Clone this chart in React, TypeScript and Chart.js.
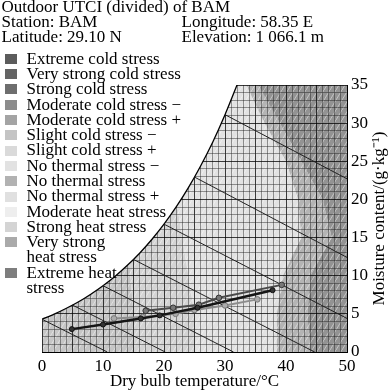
import React, { useEffect, useRef } from 'react';
import { Chart, registerables } from 'chart.js';

Chart.register(...registerables);

const FONT = "'Liberation Serif', 'Times New Roman', serif";

// ---- texts ----
const TITLE_LEFT = ['Outdoor UTCI (divided) of BAM', 'Station: BAM', 'Latitude: 29.10 N'];
const TITLE_RIGHT = ['', 'Longitude: 58.35 E', 'Elevation: 1 066.1 m'];
const X_TITLE = 'Dry bulb temperature/°C';
const Y_TITLE = 'Moisture content/(g·kg⁻¹)';

const LEGEND_LABELS = [
  ['Extreme cold stress'],
  ['Very strong cold stress'],
  ['Strong cold stress'],
  ['Moderate cold stress −'],
  ['Moderate cold stress +'],
  ['Slight cold stress −'],
  ['Slight cold stress +'],
  ['No thermal stress −'],
  ['No thermal stress'],
  ['No thermal stress +'],
  ['Moderate heat stress'],
  ['Strong heat stress'],
  ['Very strong', 'heat stress'],
  ['Extreme heat', 'stress'],
];
const LEGEND_COLORS = [
  '#5c5c5c', '#646464', '#6e6e6e', '#8c8c8c', '#a4a4a4', '#c4c4c4', '#dadada',
  '#e2e2e2', '#b2b2b2', '#e0e0e0', '#eeeeee', '#d4d4d4', '#aaaaaa', '#7e7e7e',
];

// ---- axes ----
const X_MIN = 0, X_MAX = 50, X_LABEL_STEP = 10;
const Y_MIN = 0, Y_MAX = 35, Y_LABEL_STEP = 5;

// ---- saturation curve (dry bulb °C, moisture g/kg) ----
const SAT_T = [0, 2, 4, 6, 8, 10, 12, 14, 16, 18, 20, 22, 24, 26, 28, 30, 32];
const SAT_M = [4.29, 4.96, 5.73, 6.59, 7.58, 8.69, 9.94, 11.36, 12.95, 14.75, 16.76, 19.02, 21.55, 24.39, 27.54, 31.11, 35.06];

// ---- wet bulb lines ----
const WB_START_T = [0, 5, 10, 15, 20, 25, 30];
const WB_START_M = [4.29, 6.15, 8.69, 12.13, 16.76, 22.93, 31.11];
const WB_END_T = [10.7, 20.2, 31.4, 44.7, 50, 50, 50];
const WB_END_M = [0, 0, 0, 0, 4.4, 12.4, 22.7];

// ---- UTCI zone boundaries (temperature at each moisture level) ----
const ZONE_MOIST = [0, 5, 10, 15, 20, 25, 30, 35];
const BOUND_1 = [15, 15, 14.5, 14, 14, 14, 14, 14];
const BOUND_2 = [25, 25, 24, 23, 22, 22, 22, 22];
const BOUND_3 = [38.5, 38.5, 39.5, 42.5, 42, 40, 36.5, 33.5];
const BOUND_4 = [44, 43.5, 44, 47.5, 46, 42.5, 39, 35.5];
const ZONE_COLORS = ['#c6c6c6', '#d4d4d4', '#e2e2e2', '#b4b4b4', '#939393'];

// ---- measured series ----
const S1_T = [4.9, 10.0, 16.2, 19.3, 25.5, 37.8];
const S1_M = [3.0, 3.6, 4.4, 4.8, 5.8, 8.1];
const S2_T = [17.0, 21.5, 25.7, 29.0, 39.3];
const S2_M = [5.4, 5.8, 6.2, 7.1, 8.8];
const S3_T = [11.8, 16.5, 21.9, 25.0, 30.0, 35.3];
const S3_M = [4.4, 4.6, 5.0, 5.5, 6.1, 6.9];

const pts = (t: number[], m: number[]) => t.map((v, i) => ({ x: v, y: m[i] }));

const zonesPlugin = {
  id: 'zones',
  beforeDraw(chart: any) {
    const { ctx, chartArea: a, scales } = chart;
    const xs = scales.x, ys = scales.y;
    ctx.save();
    ctx.beginPath();
    ctx.rect(a.left, a.top, a.right - a.left, a.bottom - a.top);
    ctx.clip();
    const bounds: (number[] | null)[] = [null, BOUND_1, BOUND_2, BOUND_3, BOUND_4, null];
    for (let z = 0; z < ZONE_COLORS.length; z++) {
      const L = bounds[z], R = bounds[z + 1];
      ctx.beginPath();
      ZONE_MOIST.forEach((m, k) => {
        const t = L ? L[k] : X_MIN - 1;
        const px = xs.getPixelForValue(t), py = ys.getPixelForValue(m);
        if (k === 0) ctx.moveTo(px, py + 2); else ctx.lineTo(px, py);
      });
      for (let k = ZONE_MOIST.length - 1; k >= 0; k--) {
        const t = R ? R[k] : X_MAX + 1;
        const py = ys.getPixelForValue(ZONE_MOIST[k]);
        ctx.lineTo(xs.getPixelForValue(t), k === 0 ? py + 2 : (k === ZONE_MOIST.length - 1 ? py - 2 : py));
      }
      ctx.closePath();
      ctx.fillStyle = ZONE_COLORS[z];
      ctx.fill();
    }
    // light hatch texture
    const tile = document.createElement('canvas');
    tile.width = 6; tile.height = 10;
    const tc = tile.getContext('2d')!;
    tc.strokeStyle = 'rgba(255,255,255,0.45)';
    tc.lineWidth = 1;
    tc.beginPath();
    tc.moveTo(-1, 10 + 10 / 6);
    tc.lineTo(7, -10 / 6);
    tc.stroke();
    const pat = ctx.createPattern(tile, 'repeat');
    if (pat) {
      ctx.fillStyle = pat;
      ctx.fillRect(a.left, a.top, a.right - a.left, a.bottom - a.top);
    }
    ctx.restore();
  },
};

const yTitlePlugin = {
  id: 'yTitle',
  afterDraw(chart: any) {
    const { ctx, chartArea: a } = chart;
    ctx.save();
    ctx.translate(a.right + 33, (a.top + a.bottom) / 2);
    ctx.rotate(-Math.PI / 2);
    ctx.font = `17px ${FONT}`;
    ctx.fillStyle = '#000';
    ctx.textAlign = 'center';
    ctx.textBaseline = 'middle';
    ctx.fillText(Y_TITLE, 0, 0);
    ctx.restore();
  },
};

export default function App() {
  const ref = useRef<HTMLCanvasElement>(null);

  useEffect(() => {
    if (!ref.current) return;
    const datasets: any[] = [];
    // measured series (drawn on top)
    datasets.push({
      data: pts(S1_T, S1_M), borderColor: '#151515', borderWidth: 2.5,
      pointRadius: 2.5, pointBackgroundColor: '#333', pointBorderColor: '#111', pointBorderWidth: 1,
      fill: false, order: 0,
    });
    datasets.push({
      data: pts(S2_T, S2_M), borderColor: '#4a4a4a', borderWidth: 2,
      pointRadius: 2.8, pointBackgroundColor: '#777', pointBorderColor: '#333', pointBorderWidth: 1,
      fill: false, order: 1,
    });
    datasets.push({
      data: pts(S3_T, S3_M), borderColor: '#8c8c8c', borderWidth: 2,
      pointRadius: 2.8, pointBackgroundColor: '#aaa', pointBorderColor: '#777', pointBorderWidth: 1,
      fill: false, order: 2,
    });
    WB_START_T.forEach((t, i) => {
      datasets.push({
        data: [{ x: t, y: WB_START_M[i] }, { x: WB_END_T[i], y: WB_END_M[i] }],
        borderColor: '#222', borderWidth: 1, pointRadius: 0, fill: false, order: 5,
      });
    });
    datasets.push({
      data: pts(SAT_T, SAT_M), borderColor: '#000', borderWidth: 1.3, pointRadius: 0,
      fill: 'end', backgroundColor: '#ffffff', tension: 0.3, order: 10,
    });

    const chart = new Chart(ref.current, {
      type: 'line',
      data: { datasets },
      options: {
        animation: false,
        responsive: false,
        devicePixelRatio: 1,
        layout: { padding: { left: 42, top: 85, right: 0, bottom: 0 } },
        plugins: { legend: { display: false }, tooltip: { enabled: false } },
        scales: {
          x: {
            type: 'linear', min: X_MIN, max: X_MAX, position: 'bottom',
            afterFit: (s: any) => { s.height = 40; },
            ticks: {
              stepSize: 1, autoSkip: false, maxRotation: 0, minRotation: 0, padding: 4,
              color: '#000', font: { family: FONT, size: 17 },
              callback: (v: any) => (Number(v) % X_LABEL_STEP === 0 ? String(v) : ''),
            },
            grid: {
              drawTicks: false, lineWidth: 1,
              color: (c: any) => (c.tick && c.tick.value % 5 === 0 ? 'rgba(0,0,0,0.75)' : 'rgba(30,30,30,0.45)'),
            },
            border: { display: true, color: '#000', width: 1 },
            title: { display: true, text: X_TITLE, color: '#000', font: { family: FONT, size: 17 }, padding: 0 },
          },
          y: {
            type: 'linear', min: Y_MIN, max: Y_MAX, position: 'right',
            afterFit: (s: any) => { s.width = 44; },
            ticks: {
              stepSize: 1, autoSkip: false, padding: 4,
              color: '#000', font: { family: FONT, size: 17 },
              callback: (v: any) => (Number(v) % Y_LABEL_STEP === 0 ? String(v) : ''),
            },
            grid: {
              drawTicks: false, lineWidth: 1,
              color: (c: any) => (c.tick && c.tick.value % 5 === 0 ? 'rgba(0,0,0,0.75)' : 'rgba(30,30,30,0.45)'),
            },
            border: { display: true, color: '#000', width: 1 },
          },
        },
      } as any,
      plugins: [zonesPlugin, yTitlePlugin],
    });
    return () => chart.destroy();
  }, []);

  const LH = 15.3;
  let line = 0;
  const legendItems = LEGEND_LABELS.map((lines, i) => {
    const top = 50.6 + line * LH;
    line += lines.length;
    return (
      <div key={i} style={{ position: 'absolute', left: 0, top, lineHeight: `${LH}px` }}>
        <div style={{ position: 'absolute', left: 5, top: 3.3, width: 11.5, height: 10, background: LEGEND_COLORS[i] }} />
        {lines.map((t, j) => (
          <div key={j} style={{ paddingLeft: 26.5, whiteSpace: 'nowrap' }}>{t}</div>
        ))}
      </div>
    );
  });

  return (
    <div style={{ position: 'fixed', left: 0, top: 0, width: 391, height: 392, background: '#fff', overflow: 'hidden', fontFamily: FONT, fontSize: 17, color: '#000' }}>
      <canvas ref={ref} width={391} height={392} style={{ position: 'absolute', left: 0, top: 0 }} />
      <div style={{ position: 'absolute', left: 1.5, top: -0.7, lineHeight: '15px', whiteSpace: 'nowrap' }}>
        {TITLE_LEFT.map((t, i) => <div key={i}>{t}</div>)}
      </div>
      <div style={{ position: 'absolute', left: 181.5, top: -0.7, lineHeight: '15px', whiteSpace: 'nowrap' }}>
        {TITLE_RIGHT.map((t, i) => <div key={i}>{t || '\u00a0'}</div>)}
      </div>
      {legendItems}
    </div>
  );
}
